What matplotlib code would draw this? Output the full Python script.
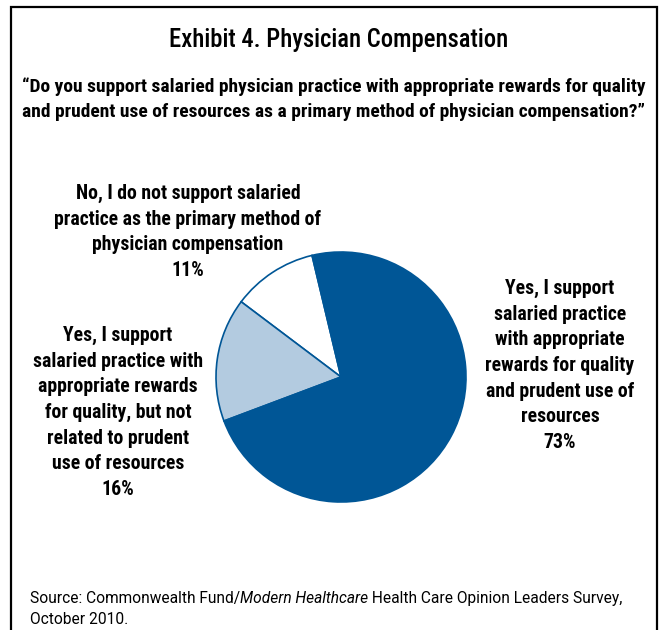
import matplotlib.pyplot as plt
from matplotlib.patches import Rectangle

NARROW = ['Roboto Condensed', 'DejaVu Sans']
BODY = ['Roboto', 'DejaVu Sans']
plt.rcParams['font.family'] = NARROW

TITLE = "Exhibit 4. Physician Compensation"
QUESTION = ("\u201cDo you support salaried physician practice with appropriate rewards for quality\n"
            "and prudent use of resources as a primary method of physician compensation?\u201d")

# slices, counter-clockwise from the top-left edge of the white wedge
shares = [11, 16, 73]
labels = [
    "No, I do not support salaried\npractice as the primary method of\nphysician compensation",
    "Yes, I support\nsalaried practice with\nappropriate rewards\nfor quality, but not\nrelated to prudent\nuse of resources",
    "Yes, I support\nsalaried practice\nwith appropriate\nrewards for quality\nand prudent use of\nresources",
]
colors = ['#ffffff', '#b3cbe0', '#005696']

W, H = 669, 630


def px(x, y):
    # pixel position (from top-left) -> figure fraction
    return x / W, 1 - y / H


def main():
    fig = plt.figure(figsize=(W / 100, H / 100), dpi=100)
    fig.patch.set_facecolor('white')

    # outer frame, open at the bottom edge
    x0, y0 = px(11, 7)
    x1, _ = px(657, 0)
    fig.add_artist(Rectangle((x0, -0.05), x1 - x0, y0 + 0.05, transform=fig.transFigure,
                             fill=False, edgecolor='black', linewidth=1.6))

    fig.text(*px(339, 40), TITLE, ha='center', va='center', fontsize=17.7, fontweight='medium')
    fig.text(*px(334, 99), QUESTION, ha='center', va='center', fontsize=14,
             fontweight='bold', linespacing=1.48)

    # pie
    cx, cy = px(341, 377)
    r = 125
    ax = fig.add_axes([cx - r / W, cy - r / H, 2 * r / W, 2 * r / H])
    ax.pie(shares, colors=colors, startangle=103.4, counterclock=True,
           wedgeprops=dict(edgecolor='#005696', linewidth=1.2))
    ax.set_xlim(-1, 1)
    ax.set_ylim(-1, 1)
    ax.axis('off')

    label_pos = [(188, 194), (118, 336), (560, 289)]
    for (lx, ly), lab, pct in zip(label_pos, labels, shares):
        txt = lab + "\n" + f"{pct}%"
        fig.text(*px(lx, ly - 10), txt, ha='center', va='top', fontsize=14.2,
                 fontweight='bold', linespacing=1.44)

    # source note with italic publication name
    fs = 11.2
    s1 = fig.text(*px(30, 603), "Source: Commonwealth Fund/", ha='left', va='baseline',
                  fontsize=fs, family=BODY)
    s2 = fig.text(0, 0, "Modern Healthcare", fontsize=fs, style='italic', va='baseline', family=BODY)
    s3 = fig.text(0, 0, " Health Care Opinion Leaders Survey,", fontsize=fs, va='baseline', family=BODY)
    fig.canvas.draw()
    rend = fig.canvas.get_renderer()
    inv = fig.transFigure.inverted()
    e1 = s1.get_window_extent(rend)
    s2.set_position((inv.transform((e1.x1, 0))[0], s1.get_position()[1]))
    e2 = s2.get_window_extent(rend)
    s3.set_position((inv.transform((e2.x1, 0))[0], s1.get_position()[1]))
    fig.text(*px(30, 624), "October 2010.", ha='left', va='baseline', fontsize=fs, family=BODY)

    plt.savefig("out.png", dpi=100, facecolor='white')


if __name__ == "__main__":
    main()
